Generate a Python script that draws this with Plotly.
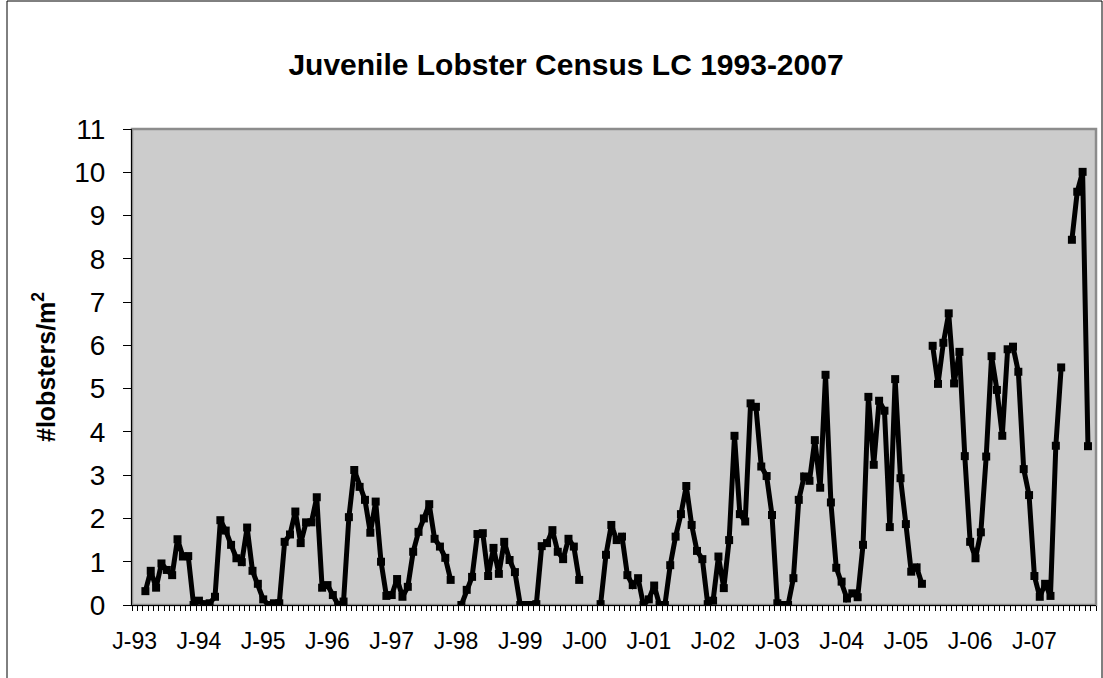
import plotly.graph_objects as go

# Monthly categories Jan 1993 .. Dec 2007
years = list(range(1993, 2008))
month_names = ["Jan", "Feb", "Mar", "Apr", "May", "Jun", "Jul", "Aug", "Sep", "Oct", "Nov", "Dec"]
categories = [f"{m}-{str(y)[2:]}" for y in years for m in month_names]

# lobsters per m^2 (None = no survey)
density = [
    None, None, 0.32, 0.79, 0.40, 0.96, 0.81, 0.69, 1.52, 1.12, 1.13, 0.00,   # 1993
    0.10, 0.02, 0.04, 0.19, 1.96, 1.72, 1.39, 1.08, 0.99, 1.79, 0.79, 0.49,   # 1994
    0.13, 0.00, 0.04, 0.04, 1.46, 1.63, 2.16, 1.43, 1.91, 1.91, 2.49, 0.40,   # 1995
    0.46, 0.23, 0.00, 0.08, 2.03, 3.12, 2.73, 2.43, 1.67, 2.39, 1.00, 0.21,   # 1996
    0.23, 0.60, 0.19, 0.42, 1.23, 1.69, 2.00, 2.33, 1.53, 1.35, 1.09, 0.58,   # 1997
    None, 0.00, 0.35, 0.65, 1.64, 1.66, 0.67, 1.32, 0.72, 1.46, 1.04, 0.76,   # 1998
    0.00, 0.00, 0.00, 0.02, 1.36, 1.43, 1.73, 1.23, 1.06, 1.53, 1.35, 0.58,   # 1999
    None, None, None, 0.02, 1.16, 1.85, 1.50, 1.58, 0.69, 0.46, 0.62, 0.00,   # 2000
    0.13, 0.45, 0.00, 0.00, 0.92, 1.58, 2.10, 2.75, 1.85, 1.25, 1.06, 0.02,   # 2001
    0.10, 1.12, 0.39, 1.50, 3.91, 2.10, 1.93, 4.66, 4.58, 3.20, 2.98, 2.08,   # 2002
    0.04, 0.00, 0.00, 0.62, 2.43, 2.97, 2.87, 3.81, 2.71, 5.32, 2.37, 0.86,   # 2003
    0.54, 0.15, 0.27, 0.18, 1.39, 4.81, 3.24, 4.72, 4.49, 1.80, 5.22, 2.93,   # 2004
    1.87, 0.77, 0.87, 0.49, None, 5.99, 5.11, 6.06, 6.74, 5.12, 5.85, 3.44,   # 2005
    1.46, 1.08, 1.68, 3.43, 5.75, 4.97, 3.91, 5.91, 5.97, 5.39, 3.14, 2.54,   # 2006
    0.67, 0.19, 0.49, 0.21, 3.68, 5.49, None, 8.44, 9.55, 10.01, 3.67, None,  # 2007
]

tick_labels = [f"J-{str(y)[2:]}" for y in years]
y_ticks = list(range(0, 12))

x_pos = list(range(len(categories)))
tick_pos = [x_pos[i] for i in range(0, len(categories), 12)]
boundaries = [p - 0.5 for p in x_pos] + [x_pos[-1] + 0.5]
x_range = [boundaries[0], boundaries[-1]]

FONT = "Arial, Liberation Sans, sans-serif"

fig = go.Figure()
fig.add_trace(go.Scatter(
    x=x_pos, y=density, text=categories,
    mode="lines+markers",
    line=dict(color="black", width=5),
    marker=dict(symbol="square", size=8, color="black"),
    connectgaps=False,
    showlegend=False,
    hovertemplate="%{text}: %{y}<extra></extra>",
))
# helper trace so the category-boundary tick axis is drawn
fig.add_trace(go.Scatter(
    x=x_range, y=[None, None], xaxis="x2", mode="lines",
    showlegend=False, hoverinfo="skip",
))

fig.update_layout(
    width=1103, height=678,
    margin=dict(l=132, r=7, t=129, b=73, autoexpand=False),
    paper_bgcolor="white",
    plot_bgcolor="#CCCCCC",
    title=dict(
        text="Juvenile Lobster Census LC 1993-2007",
        font=dict(family=FONT, size=30, color="black", weight="bold"),
        x=566 / 1103, xanchor="center", xref="container",
        y=1 - 64 / 678, yanchor="middle", yref="container",
    ),
    xaxis=dict(
        range=x_range,
        tickmode="array", tickvals=tick_pos, ticktext=tick_labels,
        ticks="", showgrid=False, zeroline=False,
        showline=True, linecolor="black", linewidth=1,
        tickfont=dict(family=FONT, size=23, color="black"),
        ticklabelstandoff=15,
        fixedrange=True,
    ),
    xaxis2=dict(
        overlaying="x", anchor="y", side="bottom",
        range=x_range,
        tickmode="array", tickvals=boundaries,
        ticks="outside", ticklen=5, tickcolor="black", tickwidth=1,
        showticklabels=False, showgrid=False, zeroline=False,
        showline=False, fixedrange=True,
    ),
    yaxis=dict(
        range=[0, 11], tickmode="array", tickvals=y_ticks,
        ticks="outside", ticklen=8, tickcolor="black", tickwidth=1,
        showgrid=False, zeroline=False,
        showline=True, linecolor="black", linewidth=1,
        tickfont=dict(family=FONT, size=28, color="black"),
        ticklabelstandoff=12,
        fixedrange=True,
    ),
    annotations=[dict(
        text="#lobsters/m<sup>2</sup>", textangle=-90,
        xref="paper", yref="paper", x=(44 - 132) / 964, y=0.5,
        xanchor="center", yanchor="middle", showarrow=False,
        font=dict(family=FONT, size=25, color="black", weight="bold"),
    )],
    shapes=[
        dict(type="rect", xref="paper", yref="paper", x0=0, x1=1, y0=0, y1=1,
             line=dict(color="#8C8C8C", width=2.5), fillcolor="rgba(0,0,0,0)", layer="below"),
        dict(type="rect", xref="paper", yref="paper",
             x0=(7 - 132) / 964, x1=(1102 - 132) / 964,
             y0=(605 - 720) / 476, y1=(605 - 1) / 476,
             line=dict(color="black", width=1), fillcolor="rgba(0,0,0,0)"),
    ],
)

fig.write_html(
    "out.html",
    config={"displayModeBar": False},
    post_script="document.body.style.margin='0px';",
)
